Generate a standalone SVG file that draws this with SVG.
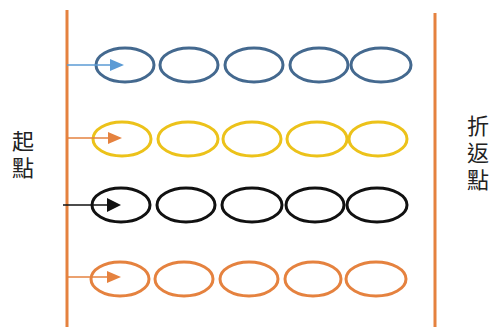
<svg xmlns="http://www.w3.org/2000/svg" width="494" height="327" viewBox="0 0 494 327">
<style>
.pole{stroke:#e5823f;stroke-width:3;fill:none}
.e{fill:none;stroke-width:3}
.blue{stroke:#44698f}
.yellow{stroke:#ecc21a}
.black{stroke:#111}
.orange{stroke:#e5823f}
.lbl{font-family:"Noto Sans CJK TC","Noto Sans CJK SC",sans-serif;font-size:22px;fill:#222;writing-mode:vertical-rl;letter-spacing:5px}
</style>
<rect width="494" height="327" fill="#fff"/>
<g id="start-line"><line class="pole" x1="67" y1="10" x2="67" y2="327"/></g>
<g id="turn-line"><line class="pole" x1="435" y1="13" x2="435" y2="327"/></g>
<g id="label-start"><text class="lbl" x="23" y="130">起點</text></g>
<g id="label-turn"><text class="lbl" x="478" y="115">折返點</text></g>
<g id="row-blue">
<ellipse class="e blue" cx="125" cy="65" rx="29" ry="17"/>
<ellipse class="e blue" cx="189" cy="65" rx="29" ry="17"/>
<ellipse class="e blue" cx="254" cy="65" rx="29" ry="17"/>
<ellipse class="e blue" cx="319" cy="65" rx="29" ry="17"/>
<ellipse class="e blue" cx="381" cy="65" rx="30" ry="17"/>
</g>
<g id="row-yellow">
<ellipse class="e yellow" cx="122" cy="139" rx="29" ry="17"/>
<ellipse class="e yellow" cx="188" cy="139" rx="30" ry="17"/>
<ellipse class="e yellow" cx="252" cy="139" rx="29" ry="17"/>
<ellipse class="e yellow" cx="317" cy="139" rx="30" ry="17"/>
<ellipse class="e yellow" cx="378" cy="139" rx="29" ry="17"/>
</g>
<g id="row-black">
<ellipse class="e black" cx="121" cy="205" rx="29" ry="17"/>
<ellipse class="e black" cx="186" cy="205" rx="29" ry="17"/>
<ellipse class="e black" cx="252" cy="205" rx="30" ry="17"/>
<ellipse class="e black" cx="315" cy="205" rx="29" ry="17"/>
<ellipse class="e black" cx="377" cy="205" rx="30" ry="17"/>
</g>
<g id="row-orange">
<ellipse class="e orange" cx="120" cy="279" rx="29" ry="17"/>
<ellipse class="e orange" cx="184" cy="279" rx="29" ry="17"/>
<ellipse class="e orange" cx="249" cy="279" rx="29" ry="17"/>
<ellipse class="e orange" cx="313" cy="279" rx="28" ry="17"/>
<ellipse class="e orange" cx="376" cy="279" rx="30" ry="17"/>
</g>
<g id="connectors">
<line x1="67" y1="65" x2="111" y2="65" stroke="#5b9bd5" stroke-width="1.5"/>
<polygon points="110,59 124,65 110,71" fill="#5b9bd5"/>
<line x1="67" y1="138" x2="109" y2="138" stroke="#e5823f" stroke-width="1.5"/>
<polygon points="108,132 122,138 108,144" fill="#e5823f"/>
<line x1="63" y1="205" x2="108" y2="205" stroke="#111" stroke-width="1.5"/>
<polygon points="107,198 121,205 107,212" fill="#111"/>
<line x1="67" y1="277" x2="108" y2="277" stroke="#e5823f" stroke-width="1.5"/>
<polygon points="107,271 121,277 107,283" fill="#e5823f"/>
</g>
</svg>
